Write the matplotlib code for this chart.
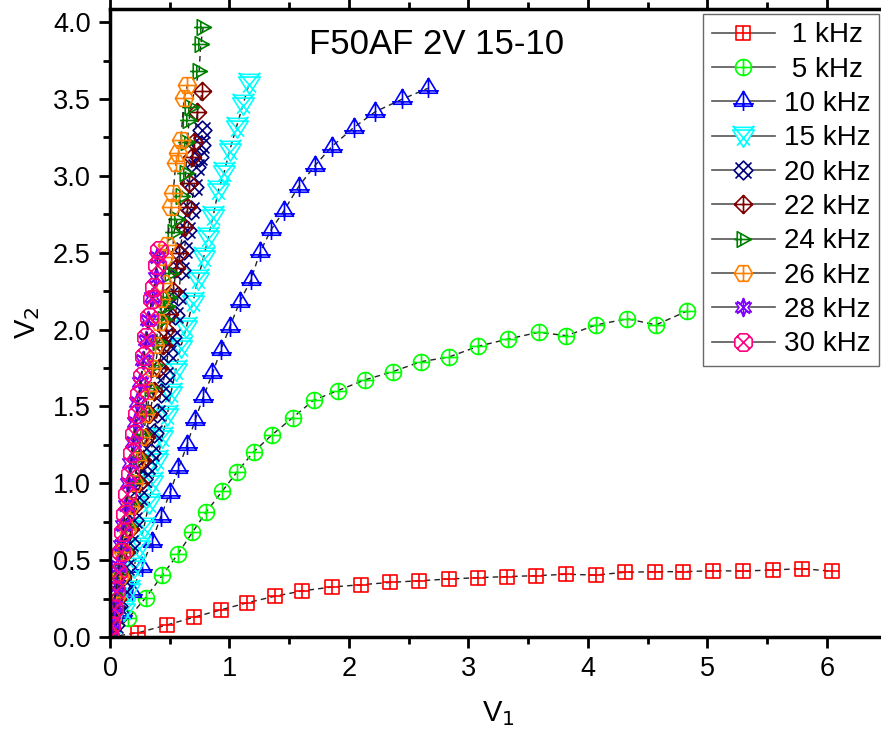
import numpy as np
import matplotlib
matplotlib.use("Agg")
import matplotlib.pyplot as plt
from matplotlib.path import Path
from matplotlib.lines import Line2D
from matplotlib.ticker import MultipleLocator, FormatStrFormatter

plt.rcParams['font.family'] = ['Liberation Sans', 'DejaVu Sans']

# ---------------- data ----------------
labels = ["1 kHz", "5 kHz", "10 kHz", "15 kHz", "20 kHz", "22 kHz",
          "24 kHz", "26 kHz", "28 kHz", "30 kHz"]

x_1k = [0, 0.237, 0.475, 0.70, 0.925, 1.15, 1.38, 1.61, 1.855, 2.10, 2.345, 2.59, 2.835,
        3.08, 3.32, 3.57, 3.82, 4.065, 4.31, 4.56, 4.80, 5.05, 5.30, 5.55, 5.79, 6.04]
y_1k = [0, 0.028, 0.078, 0.128, 0.176, 0.223, 0.265, 0.30, 0.325, 0.34, 0.355, 0.366, 0.377,
        0.386, 0.393, 0.399, 0.408, 0.403, 0.421, 0.425, 0.425, 0.431, 0.429, 0.436, 0.445, 0.428]

x_5k = [0, 0.153, 0.299, 0.438, 0.567, 0.690, 0.807, 0.941, 1.065, 1.203, 1.355, 1.528, 1.704,
        1.905, 2.132, 2.366, 2.604, 2.836, 3.082, 3.330, 3.588, 3.82, 4.07, 4.33, 4.57, 4.83]
y_5k = [0, 0.122, 0.256, 0.401, 0.538, 0.681, 0.815, 0.950, 1.075, 1.205, 1.314, 1.426, 1.540,
        1.602, 1.672, 1.726, 1.791, 1.821, 1.891, 1.938, 1.982, 1.96, 2.03, 2.07, 2.03, 2.12]

x_10k = [0, 0.103, 0.187, 0.266, 0.350, 0.425, 0.500, 0.573, 0.645, 0.712, 0.782, 0.858, 0.928,
         1.003, 1.087, 1.179, 1.255, 1.347, 1.456, 1.578, 1.712, 1.855, 2.039, 2.221, 2.442, 2.660]
y_10k = [0, 0.154, 0.295, 0.457, 0.620, 0.782, 0.934, 1.097, 1.249, 1.411, 1.563, 1.715, 1.867,
         2.018, 2.181, 2.322, 2.502, 2.647, 2.773, 2.929, 3.063, 3.189, 3.313, 3.417, 3.497, 3.569]

x_15k = [0, 0.117, 0.159, 0.201, 0.243, 0.285, 0.327, 0.355, 0.396, 0.438, 0.480, 0.509, 0.551,
         0.593, 0.640, 0.696, 0.735, 0.785, 0.824, 0.863, 0.908, 0.956, 1.003, 1.059, 1.115, 1.165]
y_15k = [0, 0.176, 0.306, 0.457, 0.587, 0.717, 0.869, 1.010, 1.151, 1.303, 1.444, 1.585, 1.737,
         1.888, 2.018, 2.181, 2.327, 2.474, 2.604, 2.738, 2.907, 3.026, 3.167, 3.319, 3.466, 3.601]

x_20k = [0, 0.04, 0.07, 0.103, 0.137, 0.165, 0.201, 0.243, 0.28, 0.31, 0.341, 0.369, 0.397, 0.425,
         0.458, 0.486, 0.515, 0.545, 0.573, 0.596, 0.620, 0.648, 0.676, 0.704, 0.724, 0.746, 0.760, 0.774]
y_20k = [0, 0.08, 0.2, 0.327, 0.457, 0.609, 0.761, 0.912, 1.03, 1.11, 1.195, 1.325, 1.455, 1.585,
         1.704, 1.845, 1.953, 2.094, 2.22, 2.387, 2.517, 2.647, 2.777, 2.929, 3.059, 3.124, 3.200, 3.296]

x_22k = [0, 0.02, 0.06, 0.10, 0.13, 0.165, 0.20, 0.24, 0.27, 0.30, 0.33, 0.37, 0.41, 0.44,
         0.47, 0.495, 0.53, 0.555, 0.58, 0.62, 0.645, 0.665, 0.69, 0.704, 0.732, 0.774]
y_22k = [0, 0.1, 0.25, 0.4, 0.55, 0.7, 0.85, 1.0, 1.15, 1.3, 1.45, 1.6, 1.75, 1.9,
         2.0, 2.1, 2.25, 2.4, 2.5, 2.67, 2.8, 2.95, 3.124, 3.221, 3.417, 3.551]

x_24k = [0, 0.02, 0.06, 0.09, 0.12, 0.15, 0.18, 0.21, 0.24, 0.28, 0.31, 0.34, 0.38, 0.41,
         0.45, 0.48, 0.495, 0.509, 0.536, 0.564, 0.60, 0.634, 0.648, 0.662, 0.676, 0.746, 0.760, 0.780]
y_24k = [0, 0.12, 0.27, 0.42, 0.57, 0.72, 0.87, 1.02, 1.17, 1.32, 1.47, 1.62, 1.77, 1.92,
         2.07, 2.15, 2.213, 2.365, 2.636, 2.72, 2.87, 3.016, 3.22, 3.36, 3.45, 3.681, 3.855, 3.966]

x_26k = [0, 0.02, 0.05, 0.08, 0.11, 0.14, 0.17, 0.20, 0.23, 0.26, 0.29, 0.32, 0.35, 0.38,
         0.41, 0.43, 0.445, 0.453, 0.480, 0.509, 0.528, 0.551, 0.573, 0.593, 0.620, 0.648]
y_26k = [0, 0.12, 0.26, 0.4, 0.55, 0.7, 0.85, 1.0, 1.15, 1.3, 1.45, 1.6, 1.75, 1.9,
         2.05, 2.2, 2.3, 2.474, 2.55, 2.795, 2.886, 3.081, 3.146, 3.233, 3.504, 3.590]

x_28k = [0, 0.015, 0.03, 0.05, 0.07, 0.09, 0.11, 0.13, 0.15, 0.17, 0.19, 0.21, 0.23,
         0.255, 0.28, 0.30, 0.32, 0.355, 0.383, 0.397]
y_28k = [0, 0.1, 0.2, 0.33, 0.46, 0.6, 0.73, 0.86, 1.0, 1.13, 1.27, 1.4, 1.53,
         1.66, 1.8, 1.93, 2.06, 2.213, 2.343, 2.474]

x_30k = [0, 0.012, 0.03, 0.05, 0.07, 0.09, 0.11, 0.125, 0.145, 0.165, 0.185, 0.205, 0.225,
         0.245, 0.265, 0.285, 0.305, 0.325, 0.35, 0.369, 0.39, 0.41]
y_30k = [0, 0.08, 0.18, 0.3, 0.42, 0.55, 0.68, 0.8, 0.93, 1.06, 1.2, 1.32, 1.45,
         1.58, 1.7, 1.83, 1.95, 2.08, 2.2, 2.278, 2.42, 2.517]

xs = [x_1k, x_5k, x_10k, x_15k, x_20k, x_22k, x_24k, x_26k, x_28k, x_30k]
ys = [y_1k, y_5k, y_10k, y_15k, y_20k, y_22k, y_24k, y_26k, y_28k, y_30k]

colors = ["#FF0000", "#00FF00", "#0000FF", "#00FFFF", "#000080", "#800000",
          "#008000", "#FF8000", "#8000FF", "#FF0080"]

# ---------------- marker shapes (Origin-like symbols) ----------------
def make_marker(polys, segs):
    verts, codes = [], []
    for p in polys:
        verts.extend(p)
        verts.append(p[0])
        codes.extend([Path.MOVETO] + [Path.LINETO] * (len(p) - 1) + [Path.CLOSEPOLY])
    for a, b in segs:
        verts.extend([a, b])
        codes.extend([Path.MOVETO, Path.LINETO])
    return Path(verts, codes)

def ring(n, r=1.0, start=0.0):
    t = np.deg2rad(start) + np.arange(n) * 2 * np.pi / n
    return [(r * np.cos(a), r * np.sin(a)) for a in t]

def star(n, r1, r2, start=90.0):
    pts = []
    for i in range(2 * n):
        r = r1 if i % 2 == 0 else r2
        a = np.deg2rad(start) + i * np.pi / n
        pts.append((r * np.cos(a), r * np.sin(a)))
    return pts

plus = [((-1, 0), (1, 0)), ((0, -1), (0, 1))]
m_sq = make_marker([[(-1, -1), (1, -1), (1, 1), (-1, 1)]], plus)
m_ci = make_marker([ring(40)], plus)
m_tu = make_marker([[(0, 1.08), (-0.95, -0.5), (0.95, -0.5)]],
                   [((-1.1, -0.25), (1.1, -0.25)), ((0, 1.08), (0, -1.0))])
m_td = make_marker([[(-1, 0.6), (1, 0.6), (0, -1)]],
                   [((-1, 1), (0.6, -0.85)), ((1, 1), (-0.6, -0.85)), ((-1, 0.85), (1, 0.85))])
m_dx = make_marker([[(0, 1), (1, 0), (0, -1), (-1, 0)]],
                   [((-0.85, 0.85), (0.85, -0.85)), ((0.85, 0.85), (-0.85, -0.85))])
m_dp = make_marker([[(0, 1), (1, 0), (0, -1), (-1, 0)]], plus)
m_tr = make_marker([[(-0.8, 1), (-0.8, -1), (1, 0)]],
                   [((-1.2, 0), (1, 0)), ((-0.35, -0.75), (-0.35, 0.75))])
m_hx = make_marker([ring(6)], [((-1, 0), (1, 0)), ((0, -0.87), (0, 0.87))])
m_st = make_marker([star(6, 1.0, 0.5)], [((-0.7, -0.7), (0.7, 0.7)), ((-0.7, 0.7), (0.7, -0.7)), ((0, -1), (0, 1))])
m_oc = make_marker([ring(8, 1.0, 22.5)], [((-0.7, -0.7), (0.7, 0.7)), ((-0.7, 0.7), (0.7, -0.7))])

markers = [m_sq, m_ci, m_tu, m_td, m_dx, m_dp, m_tr, m_hx, m_st, m_oc]
msizes = [10.5, 11.5, 15, 15.5, 13.5, 13, 13.5, 13, 13, 12.5]

# ---------------- figure ----------------
W, H = 881, 735
fig = plt.figure(figsize=(W / 100, H / 100), dpi=100)
left_px, right_px, top_px, bottom_px = 110, 886.5, 9, 637
ax = fig.add_axes([left_px / W, (H - bottom_px) / H,
                   (right_px - left_px) / W, (bottom_px - top_px) / H])

for x, y, c, m, ms, lab in zip(xs, ys, colors, markers, msizes, labels):
    ax.plot(x, y, linestyle=(0, (4, 3)), color="#222222", lw=1.0,
            marker=m, markersize=ms, markerfacecolor="none",
            markeredgecolor=c, markeredgewidth=1.2, label=lab)

ax.set_xlim(0, 6.5)
ax.set_ylim(0, 4.085)

ax.xaxis.set_major_locator(MultipleLocator(1))
ax.xaxis.set_minor_locator(MultipleLocator(0.5))
ax.yaxis.set_major_locator(MultipleLocator(0.5))
ax.yaxis.set_minor_locator(MultipleLocator(0.25))
ax.yaxis.set_major_formatter(FormatStrFormatter("%.1f"))
ax.xaxis.set_major_formatter(FormatStrFormatter("%d"))

for s in ax.spines.values():
    s.set_linewidth(2.5)
ax.tick_params(which="both", direction="out", top=True, right=False,
               labeltop=False, width=2)
ax.tick_params(which="major", length=8, labelsize=19.5, pad=6)
ax.tick_params(which="minor", length=5)

ax.set_xlabel("V$_1$", fontsize=21, labelpad=12)
ax.set_ylabel("V$_2$", fontsize=21, labelpad=8)

ax.text(0.421, 0.943, "F50AF 2V 15-10", transform=ax.transAxes,
        ha="center", va="center", fontsize=25)

# legend handles: solid grey line with the series symbol (Origin style)
handles = [Line2D([], [], linestyle="-", color="#555555", lw=1.2,
                  marker=m, markersize=ms, markerfacecolor="white",
                  markeredgecolor=c, markeredgewidth=1.2)
           for c, m, ms in zip(colors, markers, msizes)]
labs = [l.rjust(6) for l in labels]
leg = ax.legend(handles, labs, loc="upper right", bbox_to_anchor=(0.99, 0.992),
                fontsize=20, frameon=True, fancybox=False, borderaxespad=0,
                handlelength=2.3, labelspacing=0.3, borderpad=0.3,
                handletextpad=0.3)
leg.get_frame().set_edgecolor("#444444")
leg.get_frame().set_linewidth(1.0)

fig.savefig("out.png", dpi=100)
